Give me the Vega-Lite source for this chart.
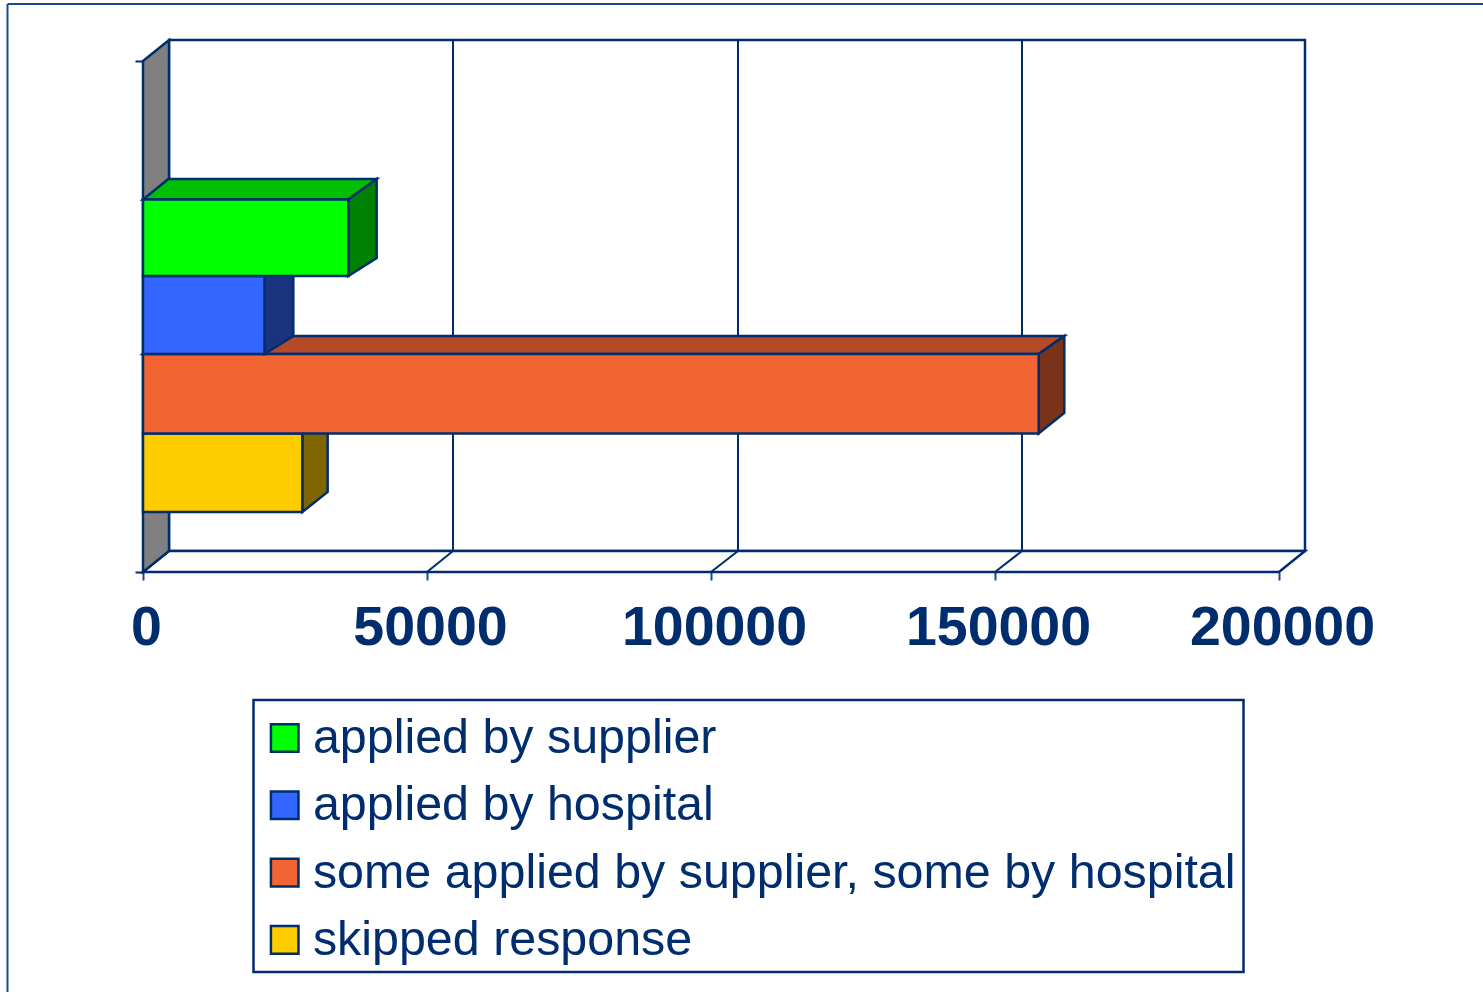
{
"$schema":"https://vega.github.io/schema/vega-lite/v6.json",
"width":1136,"height":511,
"autosize":{"type":"none"},
"padding":{"left":143,"top":61,"right":204,"bottom":420},
"background":"white",
"config":{"view":{"stroke":null},"font":"Liberation Sans","legend":{"strokeWidth":2.5}},
"datasets":{
"bars":[
{"face":"skipped response","start":0,"value":28050,"low":60,"high":138.5},
{"face":"some applied by supplier, some by hospital","start":0,"value":157690,"low":138.5,"high":218},
{"face":"applied by hospital","start":0,"value":21390,"low":218,"high":296},
{"face":"applied by supplier","start":0,"value":36150,"low":296,"high":372.5}
],
"depth":[
{"bar":"skipped","face":"skipped side","x":28050,"y":138.5,"y2":60},
{"bar":"skipped","face":"skipped side","x":32510,"y":159,"y2":80},
{"bar":"some","face":"some top","x":0,"y":218,"y2":218},
{"bar":"some","face":"some top","x":4450,"y":236,"y2":218},
{"bar":"some","face":"some top","x":157690,"y":236,"y2":218},
{"bar":"some","face":"some top","x":162200,"y":236,"y2":236},
{"bar":"some","face":"some side","x":157690,"y":218,"y2":138.5},
{"bar":"some","face":"some side","x":162200,"y":236,"y2":159},
{"bar":"hospital","face":"hospital side","x":21390,"y":296,"y2":218},
{"bar":"hospital","face":"hospital side","x":26460,"y":314,"y2":236},
{"bar":"supplier","face":"supplier top","x":0,"y":372.5,"y2":372.5},
{"bar":"supplier","face":"supplier top","x":4450,"y":393,"y2":372.5},
{"bar":"supplier","face":"supplier top","x":36150,"y":393,"y2":372.5},
{"bar":"supplier","face":"supplier top","x":41140,"y":393,"y2":393},
{"bar":"supplier","face":"supplier side","x":36150,"y":372.5,"y2":296},
{"bar":"supplier","face":"supplier side","x":41140,"y":393,"y2":314}
],
"walls":[
{"part":"back","x":4577,"y":532,"y2":21},
{"part":"back","x":204577,"y":532,"y2":21},
{"part":"floor","x":0,"y":0,"y2":0},
{"part":"floor","x":4577,"y":21,"y2":0},
{"part":"floor","x":200000,"y":21,"y2":0},
{"part":"floor","x":204577,"y":21,"y2":21}
],
"side":[
{"x":0,"y":511,"y2":0},
{"x":4577,"y":532,"y2":21}
],
"grid":[
{"x":54577,"x2":54577,"y":21,"y2":532},
{"x":104754,"x2":104754,"y":21,"y2":532},
{"x":154754,"x2":154754,"y":21,"y2":532},
{"x":50000,"x2":54577,"y":0,"y2":21},
{"x":100000,"x2":104754,"y":0,"y2":21},
{"x":150000,"x2":154754,"y":0,"y2":21}
],
"frame":[
{"x":-23856,"x2":235915,"y":568,"y2":568},
{"x":-23856,"x2":-23856,"y":568,"y2":-420}
]
},
"encoding":{
"x":{"field":"x","type":"quantitative"},
"y":{"field":"y","type":"quantitative"}
},
"layer":[
{"data":{"name":"frame"},"mark":{"type":"rule","stroke":"#1B4A8A","strokeWidth":2},
"encoding":{
"x":{"field":"x","type":"quantitative","scale":{"domain":[0,200000],"nice":false,"zero":false},
"axis":{"orient":"bottom","values":[0,50000,100000,150000,200000],"title":null,"grid":false,"domain":false,"format":"d",
"tickSize":8,"tickWidth":2,"tickColor":"#1B4A8A","labelFont":"Liberation Sans","labelFontWeight":"bold","labelFontSize":55.5,"labelColor":"#002D6E","labelPadding":20,"labelOffset":3,"labelOverlap":false,"labelFlush":false,"labelBound":false,"labelLimit":400}},
"x2":{"field":"x2"},
"y":{"field":"y","type":"quantitative","scale":{"domain":[0,511],"nice":false,"zero":false},
"axis":{"orient":"left","values":[0,511],"title":null,"grid":false,"domain":false,"labels":false,"tickSize":8,"tickWidth":2,"tickColor":"#002D6E"}},
"y2":{"field":"y2"}
}},
{"data":{"name":"walls"},"mark":{"type":"area","orient":"vertical","fill":"white","stroke":"#002D6E","strokeWidth":2.5},
"encoding":{"y2":{"field":"y2"},"detail":{"field":"part"}}},
{"data":{"name":"side"},"mark":{"type":"area","orient":"vertical","fill":"#808080","stroke":"#002D6E","strokeWidth":2.5},
"encoding":{"y2":{"field":"y2"}}},
{"data":{"name":"grid"},"mark":{"type":"rule","stroke":"#002D6E","strokeWidth":2},
"encoding":{"x2":{"field":"x2"},"y2":{"field":"y2"}}},
{
"encoding":{"fill":{"field":"face","type":"nominal",
"scale":{"domain":["applied by supplier","applied by hospital","some applied by supplier, some by hospital","skipped response","supplier top","supplier side","hospital side","some top","some side","skipped side"],
"range":["#00FF00","#3366FF","#F26532","#FFCC00","#00BF00","#008000","#1A337F","#B54A26","#7A3218","#806600"]},
"legend":{"values":["applied by supplier","applied by hospital","some applied by supplier, some by hospital","skipped response"],
"title":" ","titleFontSize":1,"titlePadding":6,"orient":"none","legendX":110.5,"legendY":639,"padding":7,"fillColor":"white","strokeColor":"#002D6E","symbolType":"square","symbolSize":760,"symbolStrokeColor":"#002D6E","symbolStrokeWidth":2.5,"symbolOffset":0,"labelFont":"Liberation Sans","labelFontSize":48.4,"labelColor":"#002D6E","labelOffset":4,"labelLimit":1100,"rowPadding":18.3,"clipHeight":48}}},
"layer":[
{"data":{"name":"depth"},"transform":[{"filter":"datum.bar==='skipped'"}],"mark":{"type":"area","orient":"vertical","stroke":"#002D6E","strokeWidth":2.5},"encoding":{"y2":{"field":"y2"}}},
{"data":{"name":"bars"},"transform":[{"filter":"datum.face==='skipped response'"}],"mark":{"type":"rect","stroke":"#002D6E","strokeWidth":2.5},"encoding":{"x":{"field":"start","type":"quantitative"},"x2":{"field":"value"},"y":{"field":"low","type":"quantitative"},"y2":{"field":"high"}}},
{"data":{"name":"depth"},"transform":[{"filter":"datum.bar==='some'"}],"mark":{"type":"area","orient":"vertical","stroke":"#002D6E","strokeWidth":2.5},"encoding":{"y2":{"field":"y2"}}},
{"data":{"name":"bars"},"transform":[{"filter":"datum.face==='some applied by supplier, some by hospital'"}],"mark":{"type":"rect","stroke":"#002D6E","strokeWidth":2.5},"encoding":{"x":{"field":"start","type":"quantitative"},"x2":{"field":"value"},"y":{"field":"low","type":"quantitative"},"y2":{"field":"high"}}},
{"data":{"name":"depth"},"transform":[{"filter":"datum.bar==='hospital'"}],"mark":{"type":"area","orient":"vertical","stroke":"#002D6E","strokeWidth":2.5},"encoding":{"y2":{"field":"y2"}}},
{"data":{"name":"bars"},"transform":[{"filter":"datum.face==='applied by hospital'"}],"mark":{"type":"rect","stroke":"#002D6E","strokeWidth":2.5},"encoding":{"x":{"field":"start","type":"quantitative"},"x2":{"field":"value"},"y":{"field":"low","type":"quantitative"},"y2":{"field":"high"}}},
{"data":{"name":"depth"},"transform":[{"filter":"datum.bar==='supplier'"}],"mark":{"type":"area","orient":"vertical","stroke":"#002D6E","strokeWidth":2.5},"encoding":{"y2":{"field":"y2"}}},
{"data":{"name":"bars"},"transform":[{"filter":"datum.face==='applied by supplier'"}],"mark":{"type":"rect","stroke":"#002D6E","strokeWidth":2.5},"encoding":{"x":{"field":"start","type":"quantitative"},"x2":{"field":"value"},"y":{"field":"low","type":"quantitative"},"y2":{"field":"high"}}}
]
}
]
}
